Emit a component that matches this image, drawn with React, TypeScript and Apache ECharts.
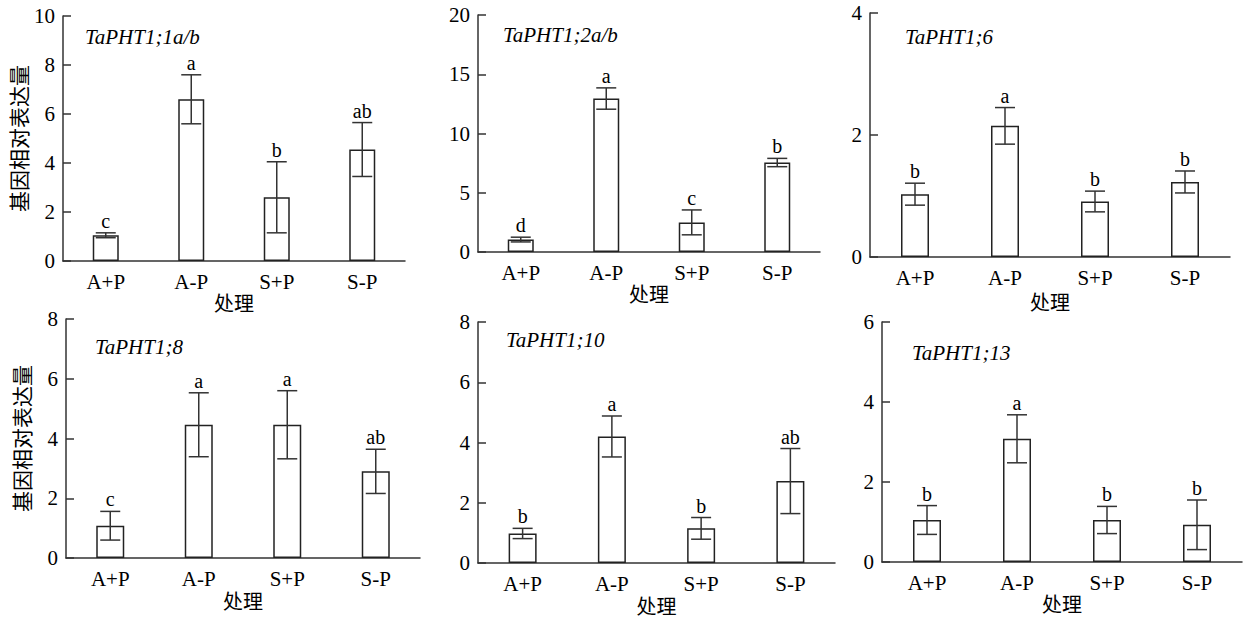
import React, { useEffect, useRef } from "react";
import * as echarts from "echarts";

const categories = ["A+P", "A-P", "S+P", "S-P"];
const genes = ["TaPHT1;1a/b", "TaPHT1;2a/b", "TaPHT1;6", "TaPHT1;8", "TaPHT1;10", "TaPHT1;13"];
const xName = "处理";
const yName = "基因相对表达量";

const means1 = [1.05, 6.6, 2.6, 4.55];
const errs1 = [0.1, 1.0, 1.45, 1.1];
const letters1 = ["c", "a", "b", "ab"];

const means2 = [1.05, 12.95, 2.5, 7.55];
const errs2 = [0.2, 0.9, 1.05, 0.35];
const letters2 = ["d", "a", "c", "b"];

const means3 = [1.03, 2.15, 0.91, 1.23];
const errs3 = [0.18, 0.3, 0.17, 0.18];
const letters3 = ["b", "a", "b", "b"];

const means4 = [1.08, 4.46, 4.46, 2.9];
const errs4 = [0.48, 1.07, 1.14, 0.74];
const letters4 = ["c", "a", "a", "ab"];

const means5 = [0.98, 4.2, 1.15, 2.72];
const errs5 = [0.17, 0.68, 0.36, 1.08];
const letters5 = ["b", "a", "b", "ab"];

const means6 = [1.05, 3.08, 1.05, 0.93];
const errs6 = [0.36, 0.6, 0.34, 0.62];
const letters6 = ["b", "a", "b", "b"];

const yMax = [10, 20, 4, 8, 8, 6];
const yInterval = [2, 5, 2, 2, 2, 2];

const allMeans = [means1, means2, means3, means4, means5, means6];
const allErrs = [errs1, errs2, errs3, errs4, errs5, errs6];
const allLetters = [letters1, letters2, letters3, letters4, letters5, letters6];

// layout (pixels)
const grids = [
  { left: 63, top: 16, width: 342, height: 245 },
  { left: 478, top: 15, width: 342, height: 237 },
  { left: 870, top: 13, width: 360, height: 244 },
  { left: 66, top: 319, width: 354, height: 239 },
  { left: 478, top: 322, width: 357, height: 241 },
  { left: 882, top: 322, width: 360, height: 240 },
];
const barWidths = [26, 26, 28, 28, 28, 28];
const xNameGaps = [28, 31, 34, 32, 32, 26];
const titlePos = [
  { left: 85, top: 26 },
  { left: 503, top: 24 },
  { left: 905, top: 26 },
  { left: 95, top: 336 },
  { left: 506, top: 329 },
  { left: 912, top: 342 },
];

const SERIF = "'Liberation Serif', 'Times New Roman', serif";
const CJK = "'Noto Sans CJK SC', sans-serif";
const AXIS_COLOR = "#333";

export default function App() {
  const ref = useRef<HTMLDivElement>(null);
  useEffect(() => {
    if (!ref.current) return;
    const chart = echarts.init(ref.current, undefined, { renderer: "svg" });
    const series: any[] = [];
    const xAxes: any[] = [];
    const yAxes: any[] = [];
    const titles: any[] = [];
    for (let p = 0; p < 6; p++) {
      xAxes.push({
        type: "category",
        gridIndex: p,
        data: categories,
        boundaryGap: true,
        axisLine: { lineStyle: { color: AXIS_COLOR, width: 1.5 } },
        axisTick: { show: false },
        axisLabel: { color: "#000", fontFamily: SERIF, fontSize: 21, margin: 10 },
        name: xName,
        nameLocation: "middle",
        nameGap: xNameGaps[p],
        nameTextStyle: { color: "#000", fontFamily: CJK, fontSize: 20 },
      });
      yAxes.push({
        type: "value",
        gridIndex: p,
        min: 0,
        max: yMax[p],
        interval: yInterval[p],
        axisLine: { show: true, lineStyle: { color: AXIS_COLOR, width: 1.5 } },
        axisTick: { show: true, inside: true, length: 8, lineStyle: { color: AXIS_COLOR, width: 1.5 } },
        splitLine: { show: false },
        axisLabel: { color: "#000", fontFamily: SERIF, fontSize: 21, margin: 8 },
        name: p === 0 || p === 3 ? yName : "",
        nameLocation: "middle",
        nameGap: 35,
        nameTextStyle: { color: "#000", fontFamily: CJK, fontSize: 21 },
      });
      titles.push({
        text: genes[p],
        left: titlePos[p].left,
        top: titlePos[p].top,
        padding: 0,
        textStyle: { fontFamily: SERIF, fontStyle: "italic", fontWeight: "normal", fontSize: 21, color: "#000" },
      });
      series.push({
        type: "bar",
        xAxisIndex: p,
        yAxisIndex: p,
        data: allMeans[p],
        barWidth: barWidths[p],
        z: 2,
        itemStyle: { color: "#fff", borderColor: "#222", borderWidth: 1.5 },
      });
      const letters = allLetters[p];
      series.push({
        type: "custom",
        xAxisIndex: p,
        yAxisIndex: p,
        z: 5,
        data: allMeans[p].map((m, i) => [i, m, allErrs[p][i]]),
        renderItem: (params: any, api: any) => {
          const x = api.value(0);
          const m = api.value(1);
          const e = api.value(2);
          const hi = api.coord([x, m + e]);
          const lo = api.coord([x, m - e]);
          const cx = hi[0];
          const half = 10;
          const st = { stroke: "#333", lineWidth: 1.5 };
          return {
            type: "group",
            children: [
              { type: "line", shape: { x1: cx, y1: hi[1], x2: cx, y2: lo[1] }, style: st },
              { type: "line", shape: { x1: cx - half, y1: hi[1], x2: cx + half, y2: hi[1] }, style: st },
              { type: "line", shape: { x1: cx - half, y1: lo[1], x2: cx + half, y2: lo[1] }, style: st },
              {
                type: "text",
                x: cx,
                y: hi[1] - 2,
                style: {
                  text: letters[params.dataIndex],
                  fill: "#000",
                  font: `20px ${SERIF}`,
                  align: "center",
                  verticalAlign: "bottom",
                },
              },
            ],
          };
        },
      });
    }
    chart.setOption({
      animation: false,
      backgroundColor: "#fff",
      title: titles,
      grid: grids.map((g) => ({ ...g, containLabel: false })),
      xAxis: xAxes,
      yAxis: yAxes,
      series,
    });
    return () => chart.dispose();
  }, []);
  return (
    <div
      ref={ref}
      style={{ position: "absolute", left: 0, top: 0, width: 1254, height: 620, background: "#fff" }}
    />
  );
}
